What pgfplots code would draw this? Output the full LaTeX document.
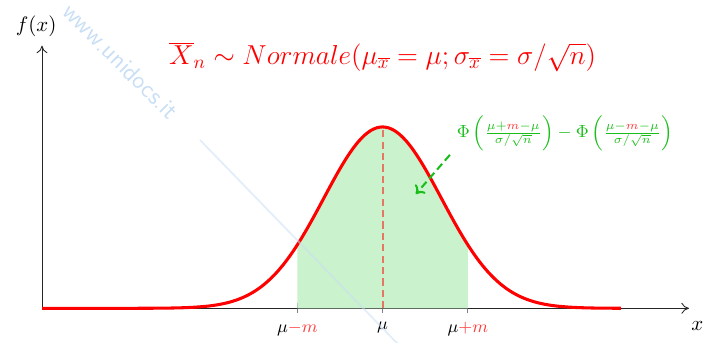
\documentclass[border=0pt]{standalone}
\usepackage{graphicx}
\usepackage{pgfplots}
\pgfplotsset{compat=1.18}
\usetikzlibrary{arrows.meta}

\definecolor{curvered}{RGB}{255,0,0}
\definecolor{areagreen}{RGB}{202,242,204}
\definecolor{notegreen}{RGB}{25,190,25}
\definecolor{wmblue}{RGB}{200,222,245}
\definecolor{softred}{RGB}{255,60,60}

\newcommand{\tl}[1]{\scalebox{1.14}{\small #1}}

% density of the sample mean, in units of sigma/sqrt(n), centred on mu
\pgfplotstableread{
x y
-5.79 0.00000
-5.00 0.00000
-4.50 0.00004
-4.20 0.00015
-4.00 0.00034
-3.80 0.00073
-3.60 0.00153
-3.40 0.00309
-3.20 0.00598
-3.00 0.01111
-2.90 0.01492
-2.80 0.01984
-2.70 0.02612
-2.60 0.03405
-2.50 0.04394
-2.40 0.05613
-2.30 0.07101
-2.20 0.08892
-2.10 0.11025
-2.00 0.13534
-1.90 0.16447
-1.80 0.19790
-1.70 0.23575
-1.60 0.27804
-1.50 0.32465
-1.40 0.37531
-1.30 0.42956
-1.20 0.48675
-1.10 0.54607
-1.00 0.60653
-0.90 0.66698
-0.80 0.72615
-0.70 0.78270
-0.60 0.83527
-0.50 0.88250
-0.40 0.92312
-0.30 0.95600
-0.20 0.98020
-0.10 0.99501
0.00 1.00000
0.10 0.99501
0.20 0.98020
0.30 0.95600
0.40 0.92312
0.50 0.88250
0.60 0.83527
0.70 0.78270
0.80 0.72615
0.90 0.66698
1.00 0.60653
1.10 0.54607
1.20 0.48675
1.30 0.42956
1.40 0.37531
1.50 0.32465
1.60 0.27804
1.70 0.23575
1.80 0.19790
1.90 0.16447
2.00 0.13534
2.10 0.11025
2.20 0.08892
2.30 0.07101
2.40 0.05613
2.50 0.04394
2.60 0.03405
2.70 0.02612
2.80 0.01984
2.90 0.01492
3.00 0.01111
3.20 0.00598
3.40 0.00309
3.60 0.00153
3.80 0.00073
4.00 0.00034
4.05 0.00027
}\densitytable

% area between mu-m and mu+m
\pgfplotstableread{
x y
-1.45 0.00000
-1.45 0.34949
-1.40 0.37531
-1.30 0.42956
-1.20 0.48675
-1.10 0.54607
-1.00 0.60653
-0.90 0.66698
-0.80 0.72615
-0.70 0.78270
-0.60 0.83527
-0.50 0.88250
-0.40 0.92312
-0.30 0.95600
-0.20 0.98020
-0.10 0.99501
0.00 1.00000
0.10 0.99501
0.20 0.98020
0.30 0.95600
0.40 0.92312
0.50 0.88250
0.60 0.83527
0.70 0.78270
0.80 0.72615
0.90 0.66698
1.00 0.60653
1.10 0.54607
1.20 0.48675
1.30 0.42956
1.40 0.37531
1.45 0.34949
1.45 0.00000
}\areatable

\begin{document}
\begin{tikzpicture}
\useasboundingbox (0,0) rectangle (423.53pt,201.18pt);
\begin{axis}[
  at={(24.71pt,19.82pt)}, anchor=south west,
  scale only axis,
  width=380.6pt, height=154.5pt,
  xmin=-5.79, xmax=5.21, ymin=0, ymax=1.448,
  axis x line=bottom, axis y line=left,
  axis line style={line width=0.5pt, black!85, -{To[length=4.5pt,width=6.5pt]}},
  ytick=\empty,
  xtick={-1.45,0,1.45},
  xticklabels={\tl{$\mu{\color{softred}-m}$}, \tl{$\mu$}, \tl{$\mu{\color{softred}+m}$}},
  tick align=center,
  major tick length=6pt,
  xtick style={gray, line width=0.5pt},
  x tick label style={yshift=-1.5pt},
  clip=false,
]
  % shaded probability
  \addplot[draw=none, fill=areagreen] table[x=x, y=y] {\areatable} -- cycle;
  % mean line
  \addplot[red, opacity=0.5, line width=1.2pt, dash pattern=on 4.2pt off 2.5pt]
    coordinates {(0,0) (0,1)};
  % density curve
  \addplot[curvered, line width=1.8pt, smooth] table[x=x, y=y] {\densitytable};

  % annotation
  \draw[notegreen, line width=1.2pt, dash pattern=on 4.5pt off 2.5pt, -{To[length=4.5pt,width=8pt]}]
    (axis cs:1.145,0.846) -- (axis cs:0.566,0.630);
  \node[notegreen] at (axis cs:3.10,0.967)
    {\scalebox{1.15}{\small$\Phi\left(\frac{\mu+{\color{softred}m}-\mu}{\sigma/\sqrt{n}}\right)-\Phi\left(\frac{\mu-{\color{softred}m}-\mu}{\sigma/\sqrt{n}}\right)$}};

  % title
  \node[red] at (axis cs:0,1.386)
    {\scalebox{1.12}{\Large$\overline{X}_n\sim Normale(\mu_{\overline{x}}=\mu;\sigma_{\overline{x}}=\sigma/\sqrt{n})$}};

  % axis names
  \node at (axis cs:-5.89,1.557) {\scalebox{1.23}{$f(x)$}};
  \node at (axis cs:5.35,-0.098) {\scalebox{1.23}{$x$}};

  % site mark
  \node[wmblue, rotate=-45, font=\Large\sffamily] at (axis cs:-4.45,1.363) {www.unidocs.it};
  \draw[wmblue, opacity=0.5, line width=1.1pt] (axis cs:-3.104,0.928) -- (axis cs:0.45,-0.26);
\end{axis}
\end{tikzpicture}
\end{document}
